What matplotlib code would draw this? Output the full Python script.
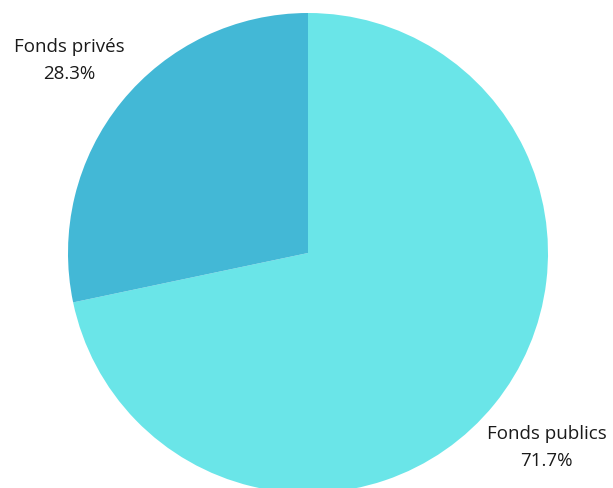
import matplotlib
matplotlib.use("Agg")
import matplotlib.pyplot as plt

labels = ["Fonds publics", "Fonds privés"]
values = [71.7, 28.3]
colors = ["#6AE5E8", "#43B8D6"]

plt.rcParams['font.family'] = ['Open Sans', 'DejaVu Sans']

fig = plt.figure(figsize=(6.13, 4.89), dpi=100)
ax = fig.add_axes([0, 0, 1, 1])

texts = ["%s\n%.1f%%" % (l, v) for l, v in zip(labels, values)]
wedges, lbls = ax.pie(values, labels=texts, colors=colors, startangle=90,
                      counterclock=False, center=(308, 235), radius=240,
                      labeldistance=1.28, frame=True,
                      textprops=dict(fontsize=13.5, color="#1a1a1a",
                                     va="center", linespacing=1.7))
for t in lbls:
    t.set_horizontalalignment("center")
ax.set_xlim(0, 613)
ax.set_ylim(0, 489)
ax.set_aspect('equal')
ax.axis('off')

fig.savefig("out.png", dpi=100)
